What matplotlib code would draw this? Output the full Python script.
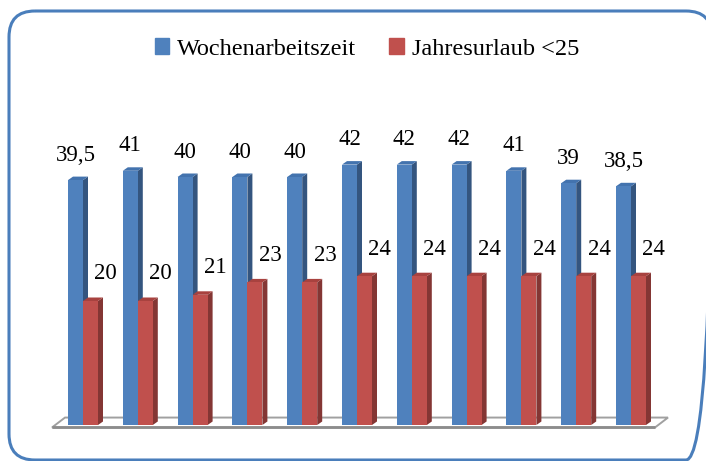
import matplotlib
matplotlib.use("Agg")
import matplotlib.pyplot as plt
from matplotlib.patches import Polygon, FancyBboxPatch
import numpy as np

categories = list(range(1, 12))
wochenarbeitszeit = [39.5, 41, 40, 40, 40, 42, 42, 42, 41, 39, 38.5]
jahresurlaub = [20, 20, 21, 23, 23, 24, 24, 24, 24, 24, 24]
series_names = ["Wochenarbeitszeit", "Jahresurlaub <25"]

W, H = 706, 461
fig = plt.figure(figsize=(W / 100, H / 100), dpi=100)
plt.rcParams['font.family'] = ['Liberation Serif', 'DejaVu Serif']

# background axes in pixel units for the rounded border
bg = fig.add_axes([0, 0, 1, 1], zorder=-5)
bg.set_xlim(0, W)
bg.set_ylim(H, 0)
bg.set_axis_off()
bg.add_patch(FancyBboxPatch((9, 11), 712 - 9, 460 - 11,
                            boxstyle="round,pad=0,rounding_size=26",
                            facecolor='none', edgecolor='#4A7EBB', linewidth=2.2, clip_on=True))

# axes placement in pixels
px_left, px_right = 50, 670
px_top, px_bottom = 60, 425
ax = fig.add_axes([px_left / W, (H - px_bottom) / H, (px_right - px_left) / W, (px_bottom - px_top) / H])
ax.set_axis_off()

spacing = 54.8  # px per group
x0_px = 83      # group centre pixel for first group
ax.set_xlim((px_left - x0_px) / spacing, (px_right - x0_px) / spacing)
ppu = 6.2
ax.set_ylim(0, (px_bottom - px_top) / ppu)

bw = 15 / spacing
dx = 5 / spacing
dy = 3.5 / ppu

x = np.arange(len(categories))

front = {0: "#4F81BD", 1: "#C0504D"}
side = {0: "#34557F", 1: "#843634"}
top = {0: "#4373AE", 1: "#A8423F"}

def bar3d(xl, h, k, z):
    ax.add_patch(Polygon([(xl + bw, 0), (xl + bw + dx, dy), (xl + bw + dx, h + dy), (xl + bw, h)],
                         closed=True, facecolor=side[k], edgecolor='none', zorder=z))
    ax.add_patch(Polygon([(xl, h), (xl + dx, h + dy), (xl + bw + dx, h + dy), (xl + bw, h)],
                         closed=True, facecolor=top[k], edgecolor='none', zorder=z))

# floor
floor_front = -0.4
floor_back = 1.2
fx0 = (52 - x0_px) / spacing
fx1 = (655 - x0_px) / spacing
bx0 = (65 - x0_px) / spacing
bx1 = (668 - x0_px) / spacing
ax.add_patch(Polygon([(fx0, floor_front), (fx1, floor_front), (bx1, floor_back), (bx0, floor_back)],
                     closed=True, facecolor='white', edgecolor='#A0A0A0', linewidth=1.4, zorder=1, clip_on=False))
ax.plot([fx0, fx1], [floor_front, floor_front], color='#8C8C8C', linewidth=2.0, zorder=1.1, clip_on=False,
        solid_capstyle='butt')

for i in range(len(x)):
    z = 2 + i * 0.1
    bar3d(x[i] - bw, wochenarbeitszeit[i], 0, z)
    bar3d(x[i], jahresurlaub[i], 1, z + 0.02)

bars_b = ax.bar(x - bw / 2, wochenarbeitszeit, width=bw, color=front[0], label=series_names[0])
bars_r = ax.bar(x + bw / 2, jahresurlaub, width=bw, color=front[1], label=series_names[1])
for i, p in enumerate(bars_b.patches):
    p.set_zorder(2.01 + 0.1 * i)
for i, p in enumerate(bars_r.patches):
    p.set_zorder(2.03 + 0.1 * i)

def fmt(v):
    return ("%g" % v).replace(".", ",")

for i in range(len(x)):
    ax.annotate(fmt(wochenarbeitszeit[i]), (x[i] - bw / 2, wochenarbeitszeit[i]), xytext=(0, 14),
                textcoords='offset points', ha='center', va='baseline', fontsize=16.5, color='black', zorder=10)
    ax.annotate(fmt(jahresurlaub[i]), (x[i] + bw / 2, jahresurlaub[i]), xytext=(11, 15.5),
                textcoords='offset points', ha='center', va='baseline', fontsize=16.5, color='black', zorder=10)

leg = fig.legend(handles=[plt.Rectangle((0, 0), 1, 1, color=front[0]), plt.Rectangle((0, 0), 1, 1, color=front[1])],
                 labels=series_names, loc='center', bbox_to_anchor=(367 / W, (H - 49) / H), ncol=2,
                 frameon=False, fontsize=17.5, handlelength=0.58, handleheight=0.58, handletextpad=0.33,
                 columnspacing=1.36)

fig.savefig("out.png", dpi=100)
